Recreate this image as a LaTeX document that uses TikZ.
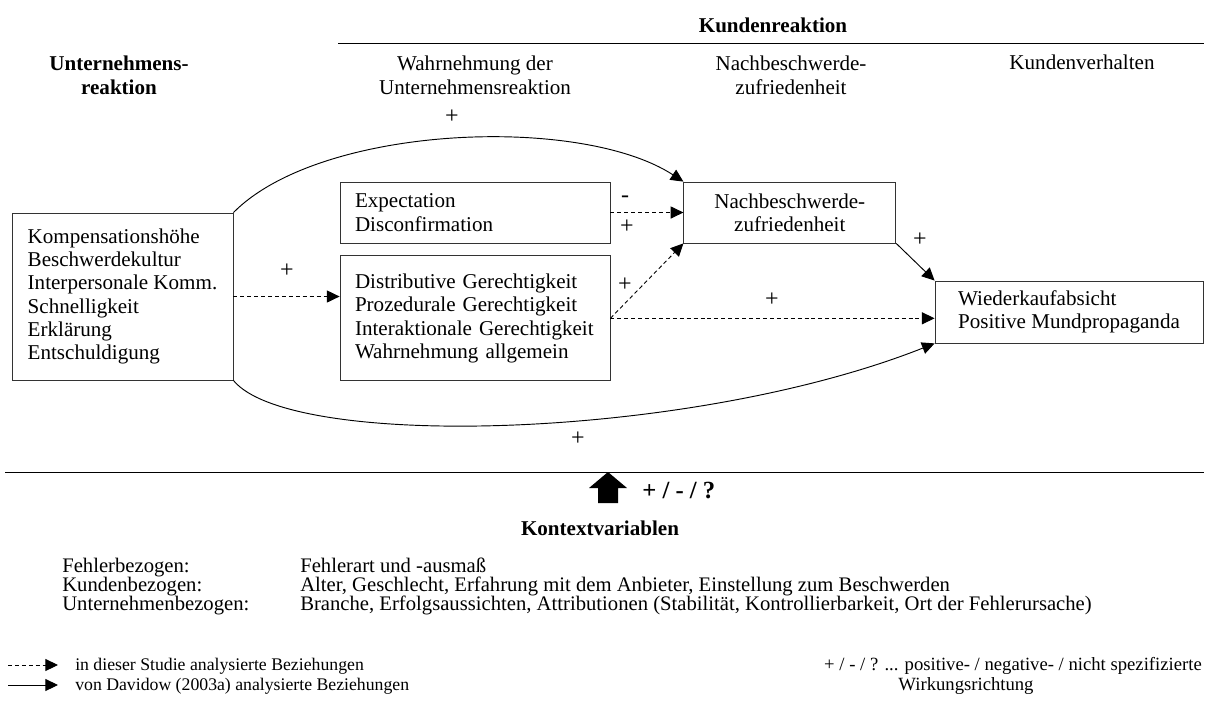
\documentclass[tikz,border=0pt]{standalone}
\usepackage{fontspec}
\setmainfont{Liberation Serif}
\usetikzlibrary{
    positioning,
    arrows.meta
}

\begin{document}
\begin{tikzpicture}[
    x=0.75pt, y=-0.75pt,
    % Estilos de nodos
    box/.style={rectangle, draw=black!80, line width=0.6pt, inner sep=0pt,
                font=\fontsize{15.8}{17.5}\selectfont},
    midbox/.style={box, align=left, text width=180pt, minimum width=202.5pt},
    head/.style={align=center, font=\fontsize{15.8}{18}\selectfont},
    headbold/.style={align=center, font=\fontsize{15.8}{18}\selectfont\bfseries},
    sign/.style={inner sep=1pt, font=\fontsize{18}{18}\selectfont},
    ctx/.style={inner sep=0pt, anchor=base west, text height=9.5pt, text depth=2.5pt,
                font=\fontsize{15.5}{17}\selectfont},
    legend/.style={inner sep=0pt, font=\fontsize{14}{14}\selectfont},
    % Estilos de flechas
    arrow/.style={-{Triangle[length=9.5pt, width=9pt]}, line width=0.7pt, draw=black},
    dash_arrow/.style={arrow, dash pattern=on 3pt off 2.2pt}
]
\useasboundingbox (0,0) rectangle (1206,704);

% --- Cabecera ---
\node[headbold] (kunden) at (773,25) {Kundenreaktion};
\coordinate (kl_a) at (338,43);
\coordinate (kl_b) at (1204,43);
\draw[line width=0.6pt] (kl_a) -- (kl_b);
\node[headbold] (h_unt) at (119,75) {Unternehmens-\\reaktion};
\node[head] (h_wahr) at (475,75) {Wahrnehmung der\\Unternehmensreaktion};
\node[head] (h_zuf) at (791,75) {Nachbeschwerde-\\zufriedenheit};
\node[head] (h_verh) at (1082,62) {Kundenverhalten};

% --- Cajas ---
\node[box, align=left, minimum width=165.75pt, minimum height=125.25pt]
    (reaktion) at (122.5,296.5)
    {Kompensationshöhe\\Beschwerdekultur\\Interpersonale Komm.\\Schnelligkeit\\Erklärung\\Entschuldigung};
\node[midbox, minimum height=45.75pt] (expect) at (475,212.5) {Expectation\\Disconfirmation};
\node[midbox, minimum height=93.75pt, below=9pt of expect] (gerecht)
    {Distributive Gerechtigkeit\\Prozedurale Gerechtigkeit\\Interaktionale Gerechtigkeit\\Wahrnehmung allgemein};
\node[box, align=center, minimum width=159pt, minimum height=45.75pt,
    right=54.75pt of expect] (zufried) {Nachbeschwerde-\\zufriedenheit};
\node[box, align=left, minimum width=201pt, minimum height=46.5pt]
    (wieder) at (1069,312) {Wiederkaufabsicht\\Positive Mundpropaganda};

% --- Flechas (Davidow) ---
\draw[arrow] (reaktion.north east) .. controls +(87,-88) and +(-103,-67) .. (zufried.north west);
\draw[arrow] (reaktion.south east) .. controls +(57,70) and +(-245,97) .. (wieder.south west);
\draw[arrow] (zufried.south east) -- (wieder.north west);

% --- Flechas (este estudio) ---
\draw[dash_arrow] (reaktion.east) -- (reaktion.east -| gerecht.west);
\draw[dash_arrow] (expect.east) -- (zufried.west);
\draw[dash_arrow] (gerecht.east) -- (zufried.south west);
\draw[dash_arrow] (gerecht.east) -- (gerecht.east -| wieder.west);

% --- Signos ---
\node[sign] (s_top) at (452,117) {+};
\node[sign] (s_bot) at (578,439) {+};
\node[sign] (s_reak) at (287,271) {+};
\node[sign] (s_exp_m) at (625,199) {-};
\node[sign] (s_exp_p) at (627,227) {+};
\node[sign] (s_ger) at (625,285) {+};
\node[sign] (s_wied) at (772,300) {+};
\node[sign] (s_zuf) at (920,240) {+};

% --- Variables de contexto ---
\coordinate (bl_a) at (5,472);
\coordinate (bl_b) at (1204,472);
\draw[line width=0.6pt] (bl_a) -- (bl_b);
\coordinate (ctx_tip) at (608,472);
\fill (ctx_tip) -- ++(19,16) -- ++(-9,0) -- ++(0,15) -- ++(-20,0) -- ++(0,-15) -- ++(-9,0) -- cycle;
\node[inner sep=0pt, anchor=west, font=\fontsize{18.5}{20}\selectfont\bfseries]
    (ctx_sign) at (642,490) {+ / - / ?};
\node[headbold] (kontext) at (600,528) {Kontextvariablen};

\node[ctx] (f_lab) at (62,572) {Fehlerbezogen:};
\node[ctx] (f_val) at (300,572) {Fehlerart und -ausmaß};
\node[ctx] (k_lab) at (62,591) {Kundenbezogen:};
\node[ctx] (k_val) at (300,591) {Alter, Geschlecht, Erfahrung mit dem Anbieter, Einstellung zum Beschwerden};
\node[ctx] (u_lab) at (62,610) {Unternehmenbezogen:};
\node[ctx] (u_val) at (300,610) {Branche, Erfolgsaussichten, Attributionen (Stabilität, Kontrollierbarkeit, Ort der Fehlerursache)};

% --- Leyenda ---
\coordinate (lg1_a) at (8,665);
\coordinate (lg1_b) at (58,665);
\draw[dash_arrow] (lg1_a) -- (lg1_b);
\coordinate (lg2_a) at (8,685);
\coordinate (lg2_b) at (58,685);
\draw[arrow] (lg2_a) -- (lg2_b);
\node[legend, anchor=base west, font=\fontsize{13.3}{14}\selectfont] (lg1_txt) at (75,670) {in dieser Studie analysierte Beziehungen};
\node[legend, anchor=base west, font=\fontsize{13.3}{14}\selectfont] (lg2_txt) at (75,690) {von Davidow (2003a) analysierte Beziehungen};
\node[legend, anchor=base east] (lgr1_txt) at (1202,670) {+ / - / ? ... positive- / negative- / nicht spezifizierte};
\node[legend, anchor=base] (lgr2_txt) at (966,690) {Wirkungsrichtung};

\end{tikzpicture}
\end{document}
